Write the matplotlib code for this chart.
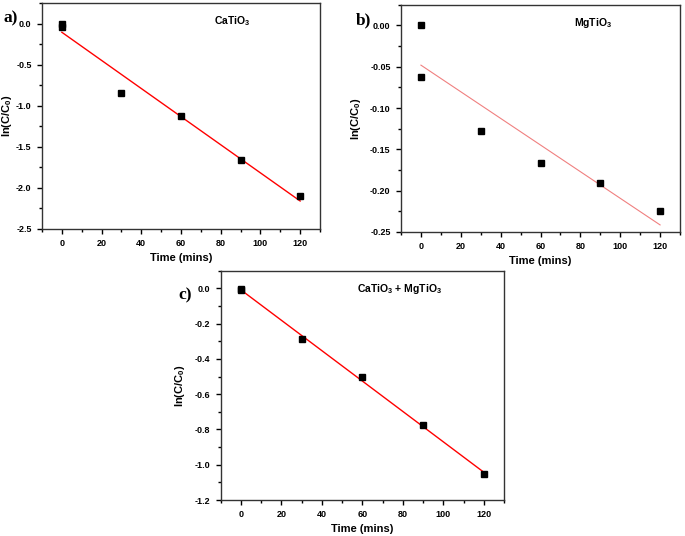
import numpy as np
import matplotlib.pyplot as plt
from matplotlib.ticker import MultipleLocator

plt.rcParams['font.family'] = ['Liberation Sans', 'DejaVu Sans']
plt.rcParams['mathtext.fontset'] = 'custom'
plt.rcParams['mathtext.rm'] = 'Liberation Sans'
plt.rcParams['mathtext.bf'] = 'Liberation Sans:bold'

t_a = [0, 0, 30, 60, 90, 120]
y_a = [-0.01, -0.04, -0.84, -1.12, -1.66, -2.10]
t_b = [0, 0, 30, 60, 90, 120]
y_b = [0.0, -0.062, -0.128, -0.167, -0.191, -0.224]
t_c = [0, 0, 30, 60, 90, 120]
y_c = [-0.005, -0.012, -0.285, -0.505, -0.775, -1.055]

fig = plt.figure(figsize=(6.85, 5.36), dpi=100)
W, H = 685.0, 536.0

def make_ax(l, t, r, b):
    return fig.add_axes([l / W, 1 - b / H, (r - l) / W, (b - t) / H])

panels = [
    # data, box, ylim, ymajor, label text + pos, letter + pos, line style, ylabel x
    (t_a, y_a, (42, 3, 320, 229), (-2.5, 0.25), 0.5, '%.1f',
     r'CaTiO$_\mathbf{3}$', (0.62, 0.92), 'a)', (3, 22), ('red', 1.0), 14),
    (t_b, y_b, (401, 4.7, 680, 232), (-0.25, 0.025), 0.05, '%.2f',
     r'MgTiO$_\mathbf{3}$', (0.62, 0.92), 'b)', (356, 24), ('#f08080', 0.8), 363),
    (t_c, y_c, (220.7, 270.7, 504, 500), (-1.2, 0.1), 0.2, '%.1f',
     r'CaTiO$_\mathbf{3}$ + MgTiO$_\mathbf{3}$', (0.48, 0.92), 'c)', (178, 299), ('red', 1.0), 187),
]

for t, y, box, ylim, ymaj, fmt, lab, lpos, letter, letpos, ls, ylx in panels:
    ax = make_ax(*box)
    t = np.array(t, dtype=float)
    y = np.array(y, dtype=float)
    k, b0 = np.polyfit(t, y, 1)
    tf = np.array([0, 120])
    ax.plot(tf, k * tf + b0, color=ls[0], lw=ls[1], zorder=2)
    ax.plot(t, y, 's', color='black', markersize=4, zorder=3)
    ax.set_xlim(-10, 130)
    ax.set_ylim(*ylim)
    ax.xaxis.set_major_locator(MultipleLocator(20))
    ax.xaxis.set_minor_locator(MultipleLocator(10))
    ax.yaxis.set_major_locator(MultipleLocator(ymaj))
    ax.yaxis.set_minor_locator(MultipleLocator(ymaj / 2))
    ax.yaxis.set_major_formatter(plt.FormatStrFormatter(fmt))
    ax.tick_params(direction='out', length=3.5, width=1, labelsize=6.5, pad=4)
    ax.tick_params(which='minor', direction='out', length=2, width=1)
    for lbl in ax.get_xticklabels() + ax.get_yticklabels():
        lbl.set_fontweight('bold')
    for sp in ax.spines.values():
        sp.set_linewidth(1.0)
        sp.set_color('#333333')
    ax.set_xlabel('Time (mins)', fontsize=8, fontweight='bold', labelpad=3)
    ax.set_ylabel(r'ln(C/C$_\mathbf{0}$)', fontsize=8, fontweight='bold')
    ax.yaxis.set_label_coords((ylx - box[0]) / (box[2] - box[0]), 0.5)
    ax.text(lpos[0], lpos[1], lab, transform=ax.transAxes, fontsize=7.5,
            fontweight='bold', va='center', ha='left')
    fig.text(letpos[0] / W, 1 - letpos[1] / H, letter, fontsize=12.5,
             fontweight='bold', family='Liberation Serif', ha='left', va='baseline')

plt.savefig('out.png', dpi=100)
